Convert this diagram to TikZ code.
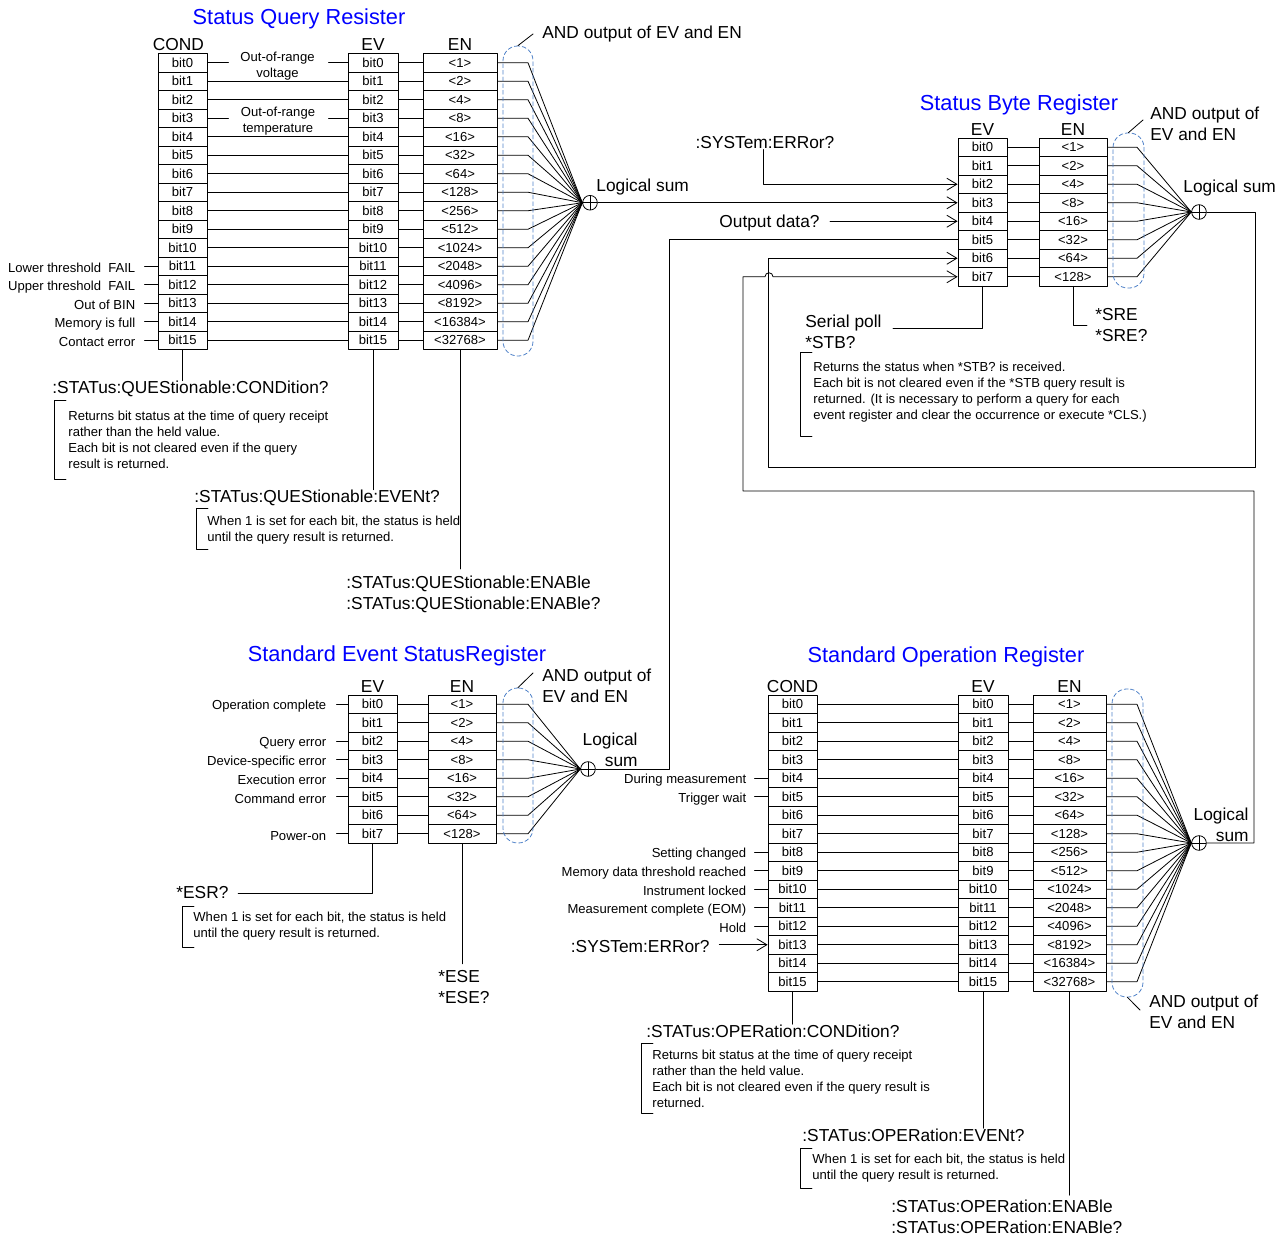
\documentclass[tikz,border=0pt]{standalone}
\usepackage{fontspec}
\setmainfont{Liberation Sans}
\usetikzlibrary{arrows.meta,positioning}
\definecolor{ttlblue}{RGB}{0,0,255}
\definecolor{andblue}{RGB}{79,129,200}
\tikzset{
	cell/.style={draw, inner sep=0pt, minimum height=13.875pt, font=\fontsize{9.8}{12}\selectfont},
	sml/.style={inner sep=0pt, yshift=-1.5pt, font=\fontsize{9.8}{12}\selectfont},
	med/.style={inner sep=0pt, yshift=-1.5pt, font=\fontsize{13}{15.75}\selectfont},
	ttl/.style={inner sep=0pt, yshift=-1.5pt, text=ttlblue, font=\fontsize{16.3}{19}\selectfont},
	andbox/.style={draw=andblue, dash pattern=on 3pt off 2pt, rounded corners=11pt, inner sep=0pt},
	sumnode/.style={draw, circle, minimum size=11pt, inner sep=0pt,
		path picture={\draw (path picture bounding box.north)--(path picture bounding box.south)
			(path picture bounding box.west)--(path picture bounding box.east);}},
}
\begin{document}
\begin{tikzpicture}[x=0.75pt, y=-0.75pt, >={Straight Barb[length=7.5pt,width=9pt]}, line width=0.6pt, line join=round, line cap=round]
	\useasboundingbox (0,0) rectangle (1286,1237);
	% Status Query register
	\node (qtitle) at (299,17) [ttl]{Status Query Resister};
	\node (qsum) at (590,202.75) [sumnode]{};
	\foreach \i/\val in {0/1,1/2,2/4,3/8,4/16,5/32,6/64,7/128,8/256,9/512,10/1024,11/2048,12/4096,13/8192,14/16384,15/32768}
	{\pgfmathsetmacro\yy{62.75+18.5*\i}
		\node (qc\i) at (182.5,\yy) [cell, minimum width=36.75pt]{bit\i};
		\node (qv\i) at (373,\yy) [cell, minimum width=37.5pt]{bit\i};
		\node (qe\i) at (460,\yy) [cell, minimum width=55.5pt]{<\val>};
		\coordinate (qa\i) at (528,\yy);
		\draw (qv\i)--(qe\i);
		\draw (qe\i)--(qa\i)--(qsum.west);}
	\foreach \i in {1,2,4,5,...,15} \draw (qc\i)--(qv\i);
	\foreach \i in {0,3}
	{\draw (qc\i.east)--++(21,0);
		\draw (qv\i.west)--++(-19,0);}
	\node (qcond) [med, above=3pt of qc0, xshift=-3pt]{COND};
	\node (qev) [med, above=3pt of qv0]{EV};
	\node (qen) [med, above=3pt of qe0]{EN};
	\node (qvolt) at (277.5,64) [sml, align=center]{Out-of-range\\voltage};
	\node (qtemp) at (278,119) [sml, align=center]{Out-of-range\\temperature};
	\foreach \i/\lbl in {11/Lower threshold~~FAIL,12/Upper threshold~~FAIL,13/Out of BIN,14/Memory is full,15/Contact error}
	\draw (qc\i.west)--++(-13,0) node (ql\i) [sml, anchor=east, xshift=-6.75pt]{\lbl};
	\node (qand) at (518,201) [andbox, minimum width=22.5pt, minimum height=232.5pt]{};
	\draw (qand.north)--(533,34);
	\node (qandl) at (542,32) [med, anchor=west]{AND output of EV and EN};
	\node (qlsum) at (596,185) [med, anchor=west]{Logical sum};
	\node (qcondq) at (52,387) [med, anchor=west]{:STATus:QUEStionable:CONDition?};
	\draw (qc15.south)--(qc15.south |- qcondq.north);
	\draw (66,400)--(54,400)--(54,479)--(66,479);
	\node (qcondn) at (68,438) [sml, anchor=west, align=left]{Returns bit status at the time of query receipt\\rather than the held value.\\Each bit is not cleared even if the query\\result is returned.};
	\node (qevq) at (194,496) [med, anchor=west]{:STATus:QUEStionable:EVENt?};
	\draw (qv15.south)--(qv15.south |- qevq.north);
	\draw (208,508)--(196,508)--(196,549)--(208,549);
	\node (qevn) at (207,528.5) [sml, anchor=west, align=left]{When 1 is set for each bit, the status is held\\until the query result is returned.};
	\node (qenq) at (346,592.5) [med, anchor=west, align=left]{:STATus:QUEStionable:ENABle\\:STATus:QUEStionable:ENABle?};
	\draw (qe15.south)--([yshift=5pt]qe15.south |- qenq.north);
	% Status Byte register
	\node (btitle) at (1019,103) [ttl]{Status Byte Register};
	\node (bsum) at (1199,212) [sumnode]{};
	\foreach \i/\val in {0/1,1/2,2/4,3/8,4/16,5/32,6/64,7/128}
	{\pgfmathsetmacro\yy{147.25+18.5*\i}
		\node (bv\i) at (982.5,\yy) [cell, minimum width=36.75pt]{bit\i};
		\node (be\i) at (1073,\yy) [cell, minimum width=51pt]{<\val>};
		\coordinate (ba\i) at (1137,\yy);
		\draw (bv\i)--(be\i);
		\draw (be\i)--(ba\i)--(bsum.west);}
	\node (bev) [med, above=3pt of bv0]{EV};
	\node (ben) [med, above=3pt of be0]{EN};
	\node (band) at (1128.5,210.5) [andbox, minimum width=23.25pt, minimum height=116.25pt]{};
	\draw (band.north)--(1143,120);
	\node (bandl) at (1150,121.5) [med, anchor=west, align=left]{AND output of\\EV and EN};
	\node (blsum) at (1183,186) [med, anchor=west]{Logical sum};
	\node (bsyserr) at (765,141) [med]{:SYSTem:ERRor?};
	\draw[->] ([xshift=-1.5pt]bsyserr.south) |- (bv2.west);
	\draw[->] (qsum)--(bv3.west);
	\node (boutd) at (820,221.25) [med, anchor=east]{Output data?};
	\draw[->] ([xshift=7.5pt]boutd.east |- bv4.west)--(bv4.west);
	\coordinate (bfb) at (768,467);
	\draw[->] (bsum) -| (1255,467)--(bfb) |- (bv6.west);
	\draw (bv7.south) |- (893,328);
	\node (bstb) at (805,329.5) [med, anchor=west, align=left]{Serial poll\\*STB?};
	\draw (be7.south) |- (1087,325);
	\node (bsre) at (1095,323.5) [med, anchor=west, align=left]{*SRE\\*SRE?};
	\draw (812,352)--(800,352)--(800,436)--(812,436);
	\node (bstbn) at (813,390.5) [sml, anchor=west, align=left]{Returns the status when *STB? is received.\\Each bit is not cleared even if the *STB query result is\\returned. (It is necessary to perform a query for each\\event register and clear the occurrence or execute *CLS.)};
	% Standard Event Status register
	\node (etitle) at (397,654) [ttl]{Standard Event StatusRegister};
	\node (esum) at (588,769) [sumnode]{};
	\foreach \i/\val in {0/1,1/2,2/4,3/8,4/16,5/32,6/64,7/128}
	{\pgfmathsetmacro\yy{704.25+18.5*\i}
		\node (ev\i) at (372.5,\yy) [cell, minimum width=36.75pt]{bit\i};
		\node (ee\i) at (462,\yy) [cell, minimum width=51pt]{<\val>};
		\coordinate (ea\i) at (528,\yy);
		\draw (ev\i)--(ee\i);
		\draw (ee\i)--(ea\i)--(esum.west);}
	\node (eev) [med, above=3pt of ev0]{EV};
	\node (een) [med, above=3pt of ee0]{EN};
	\foreach \i/\lbl in {0/Operation complete,2/Query error,3/Device-specific error,4/Execution error,5/Command error,7/Power-on}
	\draw (ev\i.west)--++(-11,0) node (el\i) [sml, anchor=east, xshift=-7.5pt]{\lbl};
	\node (eand) at (518,765.5) [andbox, minimum width=22.5pt, minimum height=116.25pt]{};
	\draw (eand.north)--(533,673);
	\node (eandl) at (542,683.5) [med, anchor=west, align=left]{AND output of\\EV and EN};
	\node (elsum) at (638,748) [med, anchor=east, align=right]{Logical\\sum};
	\coordinate (eup) at (669,239.75);
	\draw (esum) -| (eup)--(bv5.west);
	\node (eesr) at (176,891) [med, anchor=west]{*ESR?};
	\draw (ev7.south) |- ([xshift=7pt]eesr.east);
	\draw (194,906)--(182,906)--(182,947)--(194,947);
	\node (eesrn) at (193,924) [sml, anchor=west, align=left]{When 1 is set for each bit, the status is held\\until the query result is returned.};
	\node (eese) at (438,985.5) [med, anchor=west, align=left]{*ESE\\*ESE?};
	\draw (ee7.south)--([yshift=5pt]ee7.south |- eese.north);
	% Standard Operation register
	\node (otitle) at (946,655) [ttl]{Standard Operation Register};
	\node (osum) at (1199,843) [sumnode]{};
	\foreach \i/\val in {0/1,1/2,2/4,3/8,4/16,5/32,6/64,7/128,8/256,9/512,10/1024,11/2048,12/4096,13/8192,14/16384,15/32768}
	{\pgfmathsetmacro\yy{704.25+18.5*\i}
		\node (oc\i) at (792.5,\yy) [cell, minimum width=36.75pt]{bit\i};
		\node (ov\i) at (983,\yy) [cell, minimum width=37.5pt]{bit\i};
		\node (oe\i) at (1069.5,\yy) [cell, minimum width=54.75pt]{<\val>};
		\coordinate (oa\i) at (1137,\yy);
		\draw (oc\i)--(ov\i);
		\draw (ov\i)--(oe\i);
		\draw (oe\i)--(oa\i)--(osum.west);}
	\node (ocond) [med, above=3pt of oc0]{COND};
	\node (oev) [med, above=3pt of ov0]{EV};
	\node (oen) [med, above=3pt of oe0]{EN};
	\foreach \i/\lbl in {4/During measurement,5/Trigger wait,8/Setting changed,9/Memory data threshold reached,10/Instrument locked,11/Measurement complete (EOM),12/Hold}
	\draw (oc\i.west)--++(-13,0) node (ol\i) [sml, anchor=east, xshift=-6pt]{\lbl};
	\node (osyserr) at (710,944.75) [med, anchor=east]{:SYSTem:ERRor?};
	\draw[->] ([xshift=7pt]osyserr.east |- oc13.west)--(oc13.west);
	\node (oand) at (1127.5,843) [andbox, minimum width=23.25pt, minimum height=231pt]{};
	\draw (oand.south)--(1140,1010);
	\node (oandl) at (1149,1009.5) [med, anchor=west, align=left]{AND output of\\EV and EN};
	\node (olsum) at (1249,822.5) [med, anchor=east, align=right]{Logical\\sum};
	\coordinate (ofbr) at (1254,491);
	\coordinate (ofbl) at (743,491);
	\draw[->] (osum) -| (ofbr)--(ofbl)--(743,276.75)--(765,276.75) arc (180:0:3pt)--(bv7.west);
	\node (ocondq) at (646,1029) [med, anchor=west]{:STATus:OPERation:CONDition?};
	\draw (oc15.south)--(oc15.south |- ocondq.north);
	\draw (653,1043)--(641,1043)--(641,1113)--(653,1113);
	\node (ocondn) at (652,1077) [sml, anchor=west, align=left]{Returns bit status at the time of query receipt\\rather than the held value.\\Each bit is not cleared even if the query result is\\returned.};
	\node (oevq) at (802,1133) [med, anchor=west]{:STATus:OPERation:EVENt?};
	\draw (ov15.south)--(ov15.south |- oevq.north);
	\draw (812,1148)--(800,1148)--(800,1188)--(812,1188);
	\node (oevn) at (812,1166) [sml, anchor=west, align=left]{When 1 is set for each bit, the status is held\\until the query result is returned.};
	\node (oenq) at (891,1214.5) [med, anchor=west, align=left]{:STATus:OPERation:ENABle\\:STATus:OPERation:ENABle?};
	\draw (oe15.south)--([yshift=3pt]oe15.south |- oenq.north);
\end{tikzpicture}
\end{document}
